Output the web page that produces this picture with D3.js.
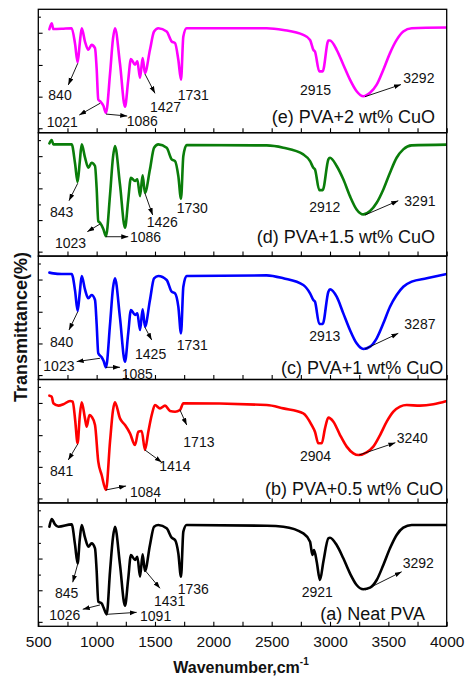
<!DOCTYPE html>
<html>
<head>
<meta charset="utf-8">
<script src="https://cdn.jsdelivr.net/npm/d3@7"></script>
<style>
  html, body { margin: 0; padding: 0; background: #fff; }
  svg { display: block; }
  text { font-family: "Liberation Sans", Arial, Helvetica, sans-serif; }
</style>
</head>
<body>
<svg id="chart" width="471" height="678"></svg>
<script>
// ---------------- DATA (wavenumber cm-1, relative transmittance) ----------------
const xTickLabels = [500, 1000, 1500, 2000, 2500, 3000, 3500, 4000];
const xMinorTicks = [500, 750, 1000, 1250, 1500, 1750, 2000, 2250, 2500, 2750, 3000, 3250, 3500, 3750, 4000];
const yTicks = [94, 81, 67.6, 54.9, 41.9, 29.2, 16.2, 3.6];

const seriesNames = ["(e) PVA+2 wt% CuO", "(d) PVA+1.5 wt% CuO", "(c) PVA+1 wt% CuO", "(b) PVA+0.5 wt% CuO", "(a) Neat PVA"];
const seriesColors = ["#ff00ff", "#0a7d0a", "#0000ff", "#ff0000", "#000000"];

const pva2CuO = [[595,83.8],[615,88.7],[629,84],[700,84.2],[786,84.7],[815,72],[837,57],[855,72],[872,84.7],[900,73.9],[929,67.2],[957,71.2],[986,68.5],[1000,52],[1014,26.9],[1029,25.5],[1057,22],[1080,16.1],[1115,48],[1140,76],[1157,84.7],[1200,56],[1243,21],[1270,42],[1294,59.7],[1329,55.1],[1349,57.8],[1372,44.4],[1394,60.5],[1414,48.4],[1457,67.2],[1492,82],[1529,84.7],[1600,82],[1643,73.9],[1672,72.6],[1700,59.1],[1723,43],[1743,78],[1771,84.7],[2457,84.7],[2600,83.3],[2771,79.3],[2829,75.2],[2857,67.2],[2871,65.8],[2908,49.7],[2937,49.7],[2986,74.7],[3000,74.7],[3057,67.2],[3114,55.1],[3171,43],[3228,33.6],[3286,29.5],[3343,32.3],[3400,38.9],[3457,51],[3514,64.5],[3571,75.2],[3628,82],[3700,84.7],[4000,85.2]];

const pva15CuO = [[595,91.3],[615,94],[629,90.5],[700,90.5],[786,90.5],[815,75],[837,60],[855,76],[872,90.5],[900,80],[929,71.6],[957,75.7],[986,73],[1000,55],[1014,28.4],[1029,27],[1057,22],[1080,16.2],[1115,50],[1140,80],[1157,89.2],[1200,58],[1243,23],[1270,45],[1294,63.5],[1329,60.8],[1349,62.2],[1372,48.6],[1394,65.4],[1414,51.4],[1457,70.3],[1492,87.8],[1529,90.5],[1600,87.8],[1643,78.4],[1672,77],[1700,64.9],[1723,46.5],[1743,81.1],[1771,90],[2457,89.7],[2600,87.8],[2771,82.4],[2829,77],[2857,71.6],[2871,70.3],[2908,53.5],[2937,53.5],[2986,78.4],[3000,79.7],[3057,73],[3114,62.2],[3171,48.6],[3228,37.8],[3286,33.8],[3343,36.5],[3400,43.2],[3457,54],[3514,67.6],[3571,79.7],[3628,86.5],[3700,89.7],[4000,90.3]];

const pva1CuO = [[595,86.6],[629,86],[700,85.5],[786,85.5],[815,72],[837,55.5],[855,70],[872,83.9],[900,73],[929,65.8],[957,68.5],[986,64.4],[1000,45],[1014,21.2],[1043,18],[1060,15],[1080,9.9],[1115,45],[1140,74],[1157,82],[1200,50],[1243,14.4],[1270,37],[1294,56.3],[1329,52.3],[1349,53.6],[1372,40.1],[1394,56.9],[1414,42.8],[1457,64.4],[1492,82],[1529,83.9],[1600,80.6],[1643,71.2],[1672,69.8],[1700,59],[1723,37.4],[1743,75.2],[1771,83.9],[2457,84.4],[2600,82],[2771,76.6],[2829,69.8],[2857,64.4],[2871,63.1],[2908,45],[2937,45],[2986,71.2],[3000,73.1],[3057,67.1],[3114,53.6],[3171,40.1],[3228,29.3],[3286,24.7],[3343,26.6],[3400,33.4],[3457,45.5],[3514,59],[3571,68.5],[3628,75.2],[3700,79.3],[3829,82],[4000,85.5]];

const pva05CuO = [[595,86.9],[615,86.1],[629,80.7],[672,78.8],[715,79.9],[772,82.6],[795,82],[815,68],[837,48.3],[855,70],[872,81.5],[900,68.5],[915,61.8],[938,71.2],[957,69.9],[986,63.1],[1014,33.4],[1043,22.6],[1080,10.5],[1115,50],[1140,75],[1157,81.5],[1200,68.5],[1243,63.1],[1286,56.4],[1329,46.9],[1357,57.7],[1386,58.3],[1414,42.9],[1443,57.7],[1472,71.2],[1500,79.3],[1543,76.6],[1586,78.8],[1629,74.5],[1672,73.9],[1714,75.3],[1743,80.7],[2457,79.3],[2600,76.6],[2771,72.6],[2843,63.1],[2871,57.7],[2900,48.3],[2929,48.3],[2957,60.4],[2986,69.1],[3029,65.8],[3086,55],[3143,45.6],[3200,40.2],[3243,38.8],[3314,41],[3371,45.6],[3429,55],[3486,65.8],[3543,73.9],[3600,78],[3657,79.3],[3771,78.8],[3886,79.9],[4000,82.6]];

const neatPVA = [[595,80.7],[615,87],[643,82.6],[672,80.7],[786,82.6],[815,66],[837,51],[855,70],[872,82.1],[900,72],[929,64.5],[957,67.2],[986,63.2],[1000,45],[1014,20],[1043,18.6],[1060,15],[1086,9.7],[1115,45],[1140,72],[1157,80.7],[1200,50],[1243,16.7],[1270,38],[1294,57.8],[1329,53.7],[1349,56.4],[1372,40.2],[1394,58.3],[1414,44.8],[1457,65.9],[1492,80.7],[1529,82.1],[1600,79.4],[1643,71.8],[1672,69.9],[1700,59.1],[1723,40.2],[1743,76.7],[1771,82.1],[2457,81.5],[2600,80.7],[2771,75.3],[2829,68.6],[2849,57.8],[2863,61.8],[2886,52.4],[2914,37.5],[2943,52.4],[2986,71.3],[3000,71.8],[3057,65.9],[3114,55.1],[3171,42.9],[3228,33.5],[3286,30],[3343,31.3],[3400,37.5],[3457,49.7],[3514,63.2],[3571,74],[3628,79.9],[3700,82.1],[4000,82.1]];

const seriesData = [pva2CuO, pva15CuO, pva1CuO, pva05CuO, neatPVA];

// Peak labels: text, label anchor (wn, T), optional arrow (wn,T -> wn,T)
const peaksE = [
  {t:"840", x:586, y:26.5, a:[838,56.2,757,38.7]},
  {t:"1021", x:572, y:4.9, a:[1029,23.8,851,14.3]},
  {t:"1086", x:1258, y:5.4, a:[1080,15.1,1262,13.5]},
  {t:"1427", x:1457, y:17.0, a:[1414,47.6,1500,31.9]},
  {t:"1731", x:1695, y:26.5},
  {t:"2915", x:2743, y:30.5},
  {t:"3292", x:3628, y:40.0, a:[3300,29.2,3608,39]}
];
const peaksD = [
  {t:"843", x:600, y:31.4, a:[838,59,763,44.9]},
  {t:"1023", x:643, y:6.3, a:[1029,26,920,19.8]},
  {t:"1086", x:1286, y:11.7, a:[1080,15.7,1271,15.7]},
  {t:"1426", x:1429, y:23.3, a:[1414,50.9,1480,33.3]},
  {t:"1730", x:1686, y:34.7},
  {t:"2912", x:2822, y:35.5},
  {t:"3291", x:3637, y:40.8, a:[3300,33.3,3585,44.9]}
];
const peaksC = [
  {t:"840", x:600, y:26.6, a:[838,54.9,763,40.1]},
  {t:"1023", x:543, y:7.1, a:[1029,17.2,829,14.5]},
  {t:"1085", x:1215, y:0.4, a:[1080,9.9,1200,9.9]},
  {t:"1425", x:1329, y:16.4, a:[1414,42.3,1472,32]},
  {t:"1731", x:1686, y:23.9},
  {t:"2913", x:2822, y:31.4},
  {t:"3287", x:3637, y:40.7, a:[3300,24.7,3585,37.4]}
];
const peaksB = [
  {t:"841", x:600, y:21.8, a:[838,47.7,757,34.8]},
  {t:"1084", x:1286, y:5.0, a:[1080,10.5,1252,13.7]},
  {t:"1414", x:1537, y:25.8, a:[1414,42.9,1558,32.9]},
  {t:"1713", x:1743, y:45.5, a:[1714,75.3,1772,63.1]},
  {t:"2904", x:2743, y:34.0},
  {t:"3240", x:3572, y:48.3, a:[3251,38.9,3560,48.8]}
];
const peaksA = [
  {t:"845", x:643, y:23.2, a:[838,50.5,795,35.7]},
  {t:"1026", x:594, y:5.1, a:[1029,17.3,881,13.8]},
  {t:"1091", x:1372, y:4.3, a:[1086,9.7,1343,11.3]},
  {t:"1431", x:1492, y:16.4, a:[1414,45.4,1543,30.8]},
  {t:"1736", x:1695, y:25.9},
  {t:"2921", x:2757, y:24.0},
  {t:"3292", x:3623, y:47.0, a:[3300,29.4,3614,44.2]}
];
const seriesPeaks = [peaksE, peaksD, peaksC, peaksB, peaksA];
const seriesLabelPos = [[3900, 8.1], [3900, 10.4], [3971, 4.5], [3971, 6.4], [3814, 5.1]];

// ---------------- LAYOUT ----------------
const plotLeft = 38.3, plotRight = 446.7, plotTop = 9.3, panelH = 123.4;
const svg = d3.select("#chart");
const FONT = '"Liberation Sans", Arial, Helvetica, sans-serif';

const x = d3.scaleLinear().domain([500, 4000]).range([plotLeft, plotRight]);

svg.append("defs").append("marker")
  .attr("id", "arrow").attr("markerUnits", "userSpaceOnUse")
  .attr("markerWidth", 8).attr("markerHeight", 6)
  .attr("refX", 7).attr("refY", 2.4).attr("orient", "auto")
  .append("path").attr("d", "M0,0 L7,2.4 L0,4.8 Z").attr("fill", "#000");

seriesData.forEach((data, i) => {
  const top = plotTop + i * panelH;
  const y = d3.scaleLinear().domain([0, 100]).range([top + panelH, top]);
  const g = svg.append("g");

  g.append("clipPath").attr("id", "clip" + i)
    .append("rect").attr("x", plotLeft).attr("y", top).attr("width", plotRight - plotLeft).attr("height", panelH);

  // bottom ticks (inward)
  const xa = g.append("g").attr("transform", `translate(0,${top + panelH})`)
    .call(d3.axisBottom(x).tickValues(xMinorTicks).tickSize(-4.5).tickFormat(""));
  xa.select(".domain").remove();
  xa.selectAll("line").attr("stroke", "#000").attr("stroke-width", 1.1);

  // left ticks (inward, alternating length)
  const ya = g.append("g").attr("transform", `translate(${plotLeft},0)`)
    .call(d3.axisLeft(y).tickValues(yTicks).tickSize(-4.3).tickFormat(""));
  ya.select(".domain").remove();
  ya.selectAll("line").attr("stroke", "#000").attr("stroke-width", 1.1)
    .attr("x2", (d, k) => (k % 2 === 1 ? 4.3 : 2.6));

  // curve
  const line = d3.line().x(d => x(d[0])).y(d => y(d[1])).curve(d3.curveMonotoneX);
  g.append("path").datum(data)
    .attr("clip-path", `url(#clip${i})`)
    .attr("d", line)
    .attr("fill", "none")
    .attr("stroke", seriesColors[i])
    .attr("stroke-width", 2.6)
    .attr("stroke-linejoin", "round")
    .attr("stroke-linecap", "round");

  // frame
  g.append("rect").attr("x", plotLeft).attr("y", top)
    .attr("width", plotRight - plotLeft).attr("height", panelH)
    .attr("fill", "none").attr("stroke", "#000").attr("stroke-width", 1.3);

  // peak annotations
  seriesPeaks[i].forEach(p => {
    if (p.a) {
      g.append("line")
        .attr("x1", x(p.a[0])).attr("y1", y(p.a[1]))
        .attr("x2", x(p.a[2])).attr("y2", y(p.a[3]))
        .attr("stroke", "#000").attr("stroke-width", 0.9)
        .attr("marker-end", "url(#arrow)");
    }
    g.append("text").attr("x", x(p.x)).attr("y", y(p.y))
      .attr("font-size", 14).attr("fill", "#111").text(p.t);
  });

  // series label
  g.append("text")
    .attr("x", x(seriesLabelPos[i][0])).attr("y", y(seriesLabelPos[i][1]))
    .attr("text-anchor", "end").attr("font-size", 18).attr("fill", "#111")
    .text(seriesNames[i]);
});

// bottom tick labels
const bottom = plotTop + 5 * panelH;
const xl = svg.append("g").attr("transform", `translate(0,${bottom})`)
  .call(d3.axisBottom(x).tickValues(xTickLabels).tickSize(0).tickPadding(10).tickFormat(d3.format("d")));
xl.select(".domain").remove();
xl.selectAll("text").attr("font-size", 15.5).attr("font-family", FONT).attr("fill", "#111");

// axis titles
const xt = svg.append("text").attr("x", 241).attr("y", 673)
  .attr("text-anchor", "middle").attr("font-size", 16).attr("font-weight", "bold").attr("fill", "#111");
xt.append("tspan").text("Wavenumber,cm");
xt.append("tspan").attr("font-size", 10).attr("dy", -8).text("-1");

svg.append("text")
  .attr("transform", `translate(27,327) rotate(-90)`)
  .attr("text-anchor", "middle").attr("font-size", 18).attr("font-weight", "bold").attr("fill", "#111")
  .text("Transmittance(%)");
</script>
</body>
</html>
